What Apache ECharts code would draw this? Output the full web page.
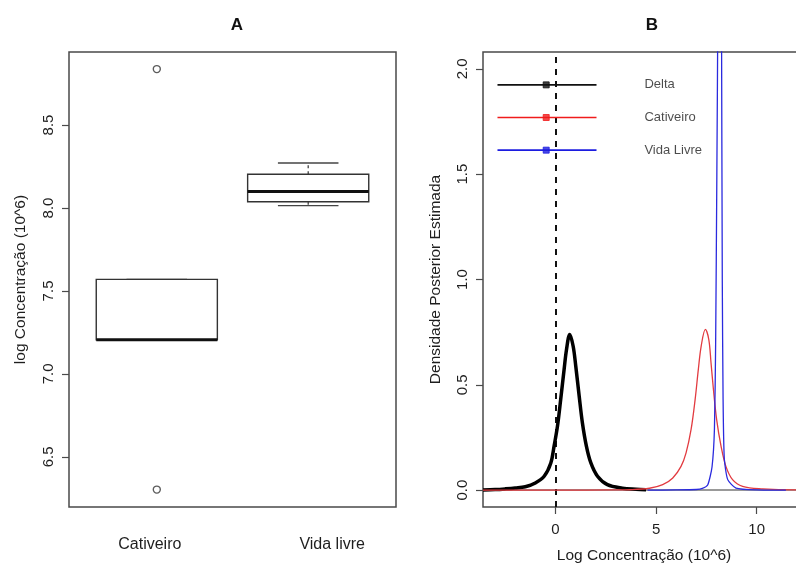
<!DOCTYPE html>
<html><head><meta charset="utf-8">
<script src="https://cdn.jsdelivr.net/npm/echarts@6/dist/echarts.min.js"></script>
<style>html,body{margin:0;padding:0;background:#fff}#c{width:796px;height:565px}</style>
</head><body><div id="c"></div>
<script>
// ---------- Panel A data (boxplot) ----------
const boxCategories = ['Cativeiro', 'Vida livre'];
// [lower whisker, Q1, median, Q3, upper whisker]
const boxCativeiro = [7.206, 7.206, 7.206, 7.570, 7.570];
const boxVidaLivre = [8.014, 8.038, 8.100, 8.203, 8.271];
const outlierGroup = [1, 1];
const outlierValues = [8.837, 6.303];
const yTicksA = [6.5, 7.0, 7.5, 8.0, 8.5];

// ---------- Panel B data (posterior densities) ----------
const deltaX = [-3.6, -3.0, -2.5, -2.0, -1.5, -1.0, -0.56, -0.23, -0.07, 0.10, 0.26, 0.43, 0.55, 0.71, 0.88, 1.01, 1.18, 1.34, 1.54, 1.76, 2.09, 2.58, 3.33, 4.0, 4.5];
const deltaY = [0.001, 0.003, 0.006, 0.010, 0.016, 0.034, 0.066, 0.129, 0.208, 0.303, 0.430, 0.573, 0.668, 0.739, 0.683, 0.588, 0.446, 0.319, 0.208, 0.129, 0.066, 0.026, 0.009, 0.004, 0.002];

const cativX = [-3.6, 0, 3.0, 3.68, 4.67, 5.33, 5.83, 6.24, 6.49, 6.74, 6.94, 7.10, 7.24, 7.45, 7.62, 7.73, 7.85, 8.01, 8.23, 8.47, 8.80, 9.30, 10.3, 11.9, 12.4];
const cativY = [0, 0, 0.001, 0.002, 0.009, 0.026, 0.058, 0.113, 0.177, 0.288, 0.430, 0.573, 0.683, 0.763, 0.715, 0.605, 0.478, 0.335, 0.208, 0.113, 0.050, 0.018, 0.006, 0.001, 0.001];

const vidaX = [4.58, 6.0, 7.0, 7.3, 7.57, 7.78, 7.90, 7.96, 8.02, 8.07, 8.12, 8.16, 8.20, 8.25, 8.29, 8.33, 8.39, 8.56, 8.97, 10.0, 11.45];
const vidaY = [0, 0.001, 0.003, 0.008, 0.026, 0.11, 0.29, 0.7, 1.5, 2.3, 4.0, 5.0, 4.0, 2.3, 1.0, 0.43, 0.15, 0.05, 0.01, 0.001, 0];

const legendNames = ['Delta', 'Cativeiro', 'Vida Livre'];
const legendY = [1.924, 1.769, 1.614];
const legendSegX = [-2.88, 2.04];
const legendPointX = -0.46;
const legendTextX = 4.42;
const xTicksB = [0, 5, 10];
const yTicksB = [0, 0.5, 1.0, 1.5, 2.0];
const zeroLineX = 0;
const baselineY = 0;

// ---------- styles ----------
const FONT = 'Liberation Sans, Arial, Helvetica, sans-serif';
const FRAME = '#4a4a4a';
const TXT = '#1e1e1e';
const colors = ['#000000', '#e23b40', '#2a2ade'];
const legendColors = ['#111111', '#f01c1c', '#1c1ce0'];

const zip = (xs, ys) => xs.map((x, i) => [x, ys[i]]);
const boxData = [boxCativeiro, boxVidaLivre].map((s, i) => [i + 1].concat(s));

function renderBox(params, api) {
  const x = api.value(0);
  const pLo = api.coord([x, api.value(1)]);
  const pQ1 = api.coord([x, api.value(2)]);
  const pMed = api.coord([x, api.value(3)]);
  const pQ3 = api.coord([x, api.value(4)]);
  const pHi = api.coord([x, api.value(5)]);
  const half = api.size([0.8, 0])[0] / 2;
  const st = half / 2;
  const cx = pMed[0];
  const dash = {stroke: '#333', lineWidth: 1.2, lineDash: [3, 3]};
  const solid = {stroke: '#444', lineWidth: 1.4};
  return {type: 'group', children: [
    {type: 'line', shape: {x1: cx, y1: pQ3[1], x2: cx, y2: pHi[1]}, style: dash},
    {type: 'line', shape: {x1: cx, y1: pQ1[1], x2: cx, y2: pLo[1]}, style: dash},
    {type: 'line', shape: {x1: cx - st, y1: pHi[1], x2: cx + st, y2: pHi[1]}, style: solid},
    {type: 'line', shape: {x1: cx - st, y1: pLo[1], x2: cx + st, y2: pLo[1]}, style: solid},
    {type: 'rect', shape: {x: cx - half, y: pQ3[1], width: 2 * half, height: pQ1[1] - pQ3[1]},
      style: {fill: 'rgba(0,0,0,0)', stroke: '#333', lineWidth: 1.4}},
    {type: 'line', shape: {x1: cx - half, y1: pMed[1], x2: cx + half, y2: pMed[1]}, style: {stroke: '#111', lineWidth: 3}}
  ]};
}

const tickStyle = {show: true, length: 7, lineStyle: {color: FRAME, width: 1.2}};
const lblStyle = {color: TXT, fontSize: 15, fontFamily: FONT};
const noLine = {show: false, onZero: false};

const option = {
  backgroundColor: '#ffffff',
  animation: false,
  title: [
    {text: 'A', left: 232, top: 12, textAlign: 'center', textStyle: {fontSize: 17, fontWeight: 'bold', color: '#111', fontFamily: FONT}},
    {text: 'B', left: 647, top: 12, textAlign: 'center', textStyle: {fontSize: 17, fontWeight: 'bold', color: '#111', fontFamily: FONT}}
  ],
  grid: [
    {left: 69, top: 52, width: 327, height: 455, show: true, borderColor: FRAME, borderWidth: 1.5,
      backgroundColor: 'rgba(0,0,0,0)', outerBoundsMode: 'none', containLabel: false},
    {left: 483, top: 52, width: 322, height: 455, show: true, borderColor: FRAME, borderWidth: 1.5,
      backgroundColor: 'rgba(0,0,0,0)', outerBoundsMode: 'none', containLabel: false}
  ],
  xAxis: [
    {type: 'value', gridIndex: 0, min: 0.42, max: 2.58,
      axisLine: noLine, splitLine: {show: false}, axisTick: {show: false},
      axisLabel: {customValues: [1, 2], margin: 30, color: TXT, fontSize: 16, fontFamily: FONT,
        formatter: v => (Math.round(v) === 1 ? '{a|' : '{b|') + boxCategories[Math.round(v) - 1] + '}',
        rich: {a: {fontSize: 16, fontFamily: FONT, color: TXT, padding: [0, 14, 0, 0]},
               b: {fontSize: 16, fontFamily: FONT, color: TXT, padding: [0, 0, 0, 48]}}}},
    {type: 'value', gridIndex: 1, min: -3.6, max: 12.4,
      axisLine: noLine, splitLine: {show: false},
      axisTick: Object.assign({customValues: xTicksB}, tickStyle),
      axisLabel: Object.assign({customValues: xTicksB, margin: 15}, lblStyle),
      name: 'Log Concentração (10^6)', nameLocation: 'middle', nameGap: 41,
      nameTextStyle: {color: TXT, fontSize: 15.5, fontFamily: FONT}}
  ],
  yAxis: [
    {type: 'value', gridIndex: 0, min: 6.198, max: 8.94,
      axisLine: noLine, splitLine: {show: false},
      axisTick: Object.assign({customValues: yTicksA}, tickStyle),
      axisLabel: Object.assign({customValues: yTicksA, rotate: 90, margin: 13, formatter: v => v.toFixed(1)}, lblStyle),
      name: 'log Concentração (10^6)', nameLocation: 'middle', nameGap: 40,
      nameTextStyle: {color: TXT, fontSize: 15.5, fontFamily: FONT}},
    {type: 'value', gridIndex: 1, min: -0.08, max: 2.08,
      axisLine: noLine, splitLine: {show: false},
      axisTick: Object.assign({customValues: yTicksB}, tickStyle),
      axisLabel: Object.assign({customValues: yTicksB, rotate: 90, margin: 13, formatter: v => v.toFixed(1)}, lblStyle),
      name: 'Densidade Posterior Estimada', nameLocation: 'middle', nameGap: 39,
      nameTextStyle: {color: TXT, fontSize: 15.5, fontFamily: FONT}}
  ],
  series: [
    {type: 'custom', xAxisIndex: 0, yAxisIndex: 0, renderItem: renderBox, data: boxData,
      encode: {x: 0, y: [1, 2, 3, 4, 5]}, z: 3},
    {type: 'scatter', xAxisIndex: 0, yAxisIndex: 0, symbol: 'circle', symbolSize: 7,
      itemStyle: {color: '#fff', borderColor: '#333', borderWidth: 1.4},
      data: outlierGroup.map((g, i) => [g, outlierValues[i]]), z: 4},
    {type: 'line', name: 'Delta', xAxisIndex: 1, yAxisIndex: 1, data: zip(deltaX, deltaY),
      showSymbol: false, smooth: 0.35, lineStyle: {color: colors[0], width: 3.5}, z: 2,
      markLine: {silent: true, symbol: ['none', 'none'], label: {show: false}, z: 1,
        data: [
          {yAxis: baselineY, lineStyle: {color: '#777', width: 1.5, type: 'solid'}},
          {xAxis: zeroLineX, lineStyle: {color: '#111', width: 2, type: [6, 6]}}
        ]}},
    {type: 'line', name: 'Cativeiro', xAxisIndex: 1, yAxisIndex: 1, data: zip(cativX, cativY),
      showSymbol: false, smooth: 0.35, lineStyle: {color: colors[1], width: 1.3}, z: 3},
    {type: 'line', name: 'Vida Livre', xAxisIndex: 1, yAxisIndex: 1, data: zip(vidaX, vidaY),
      showSymbol: false, smooth: 0.2, lineStyle: {color: colors[2], width: 1.3}, z: 4}
  ].concat(legendNames.map((n, i) => ({
    type: 'line', xAxisIndex: 1, yAxisIndex: 1, showSymbol: false, z: 5,
    lineStyle: {color: legendColors[i], width: 1.6},
    data: legendSegX.map(x => [x, legendY[i]])
  }))).concat([
    {type: 'scatter', xAxisIndex: 1, yAxisIndex: 1, symbol: 'rect', symbolSize: 6, z: 6,
      data: legendY.map((y, i) => ({value: [legendPointX, y], itemStyle: {color: legendColors[i], borderColor: legendColors[i]}}))},
    {type: 'scatter', xAxisIndex: 1, yAxisIndex: 1, symbolSize: 0, z: 6,
      data: legendY.map((y, i) => ({value: [legendTextX, y], name: legendNames[i]})),
      label: {show: true, position: 'right', distance: 0, formatter: p => p.name,
        color: TXT, fontSize: 13, fontFamily: FONT}}
  ])
};

const chart = echarts.init(document.getElementById('c'), null, {renderer: 'canvas'});
chart.setOption(option);
</script>
</body></html>
